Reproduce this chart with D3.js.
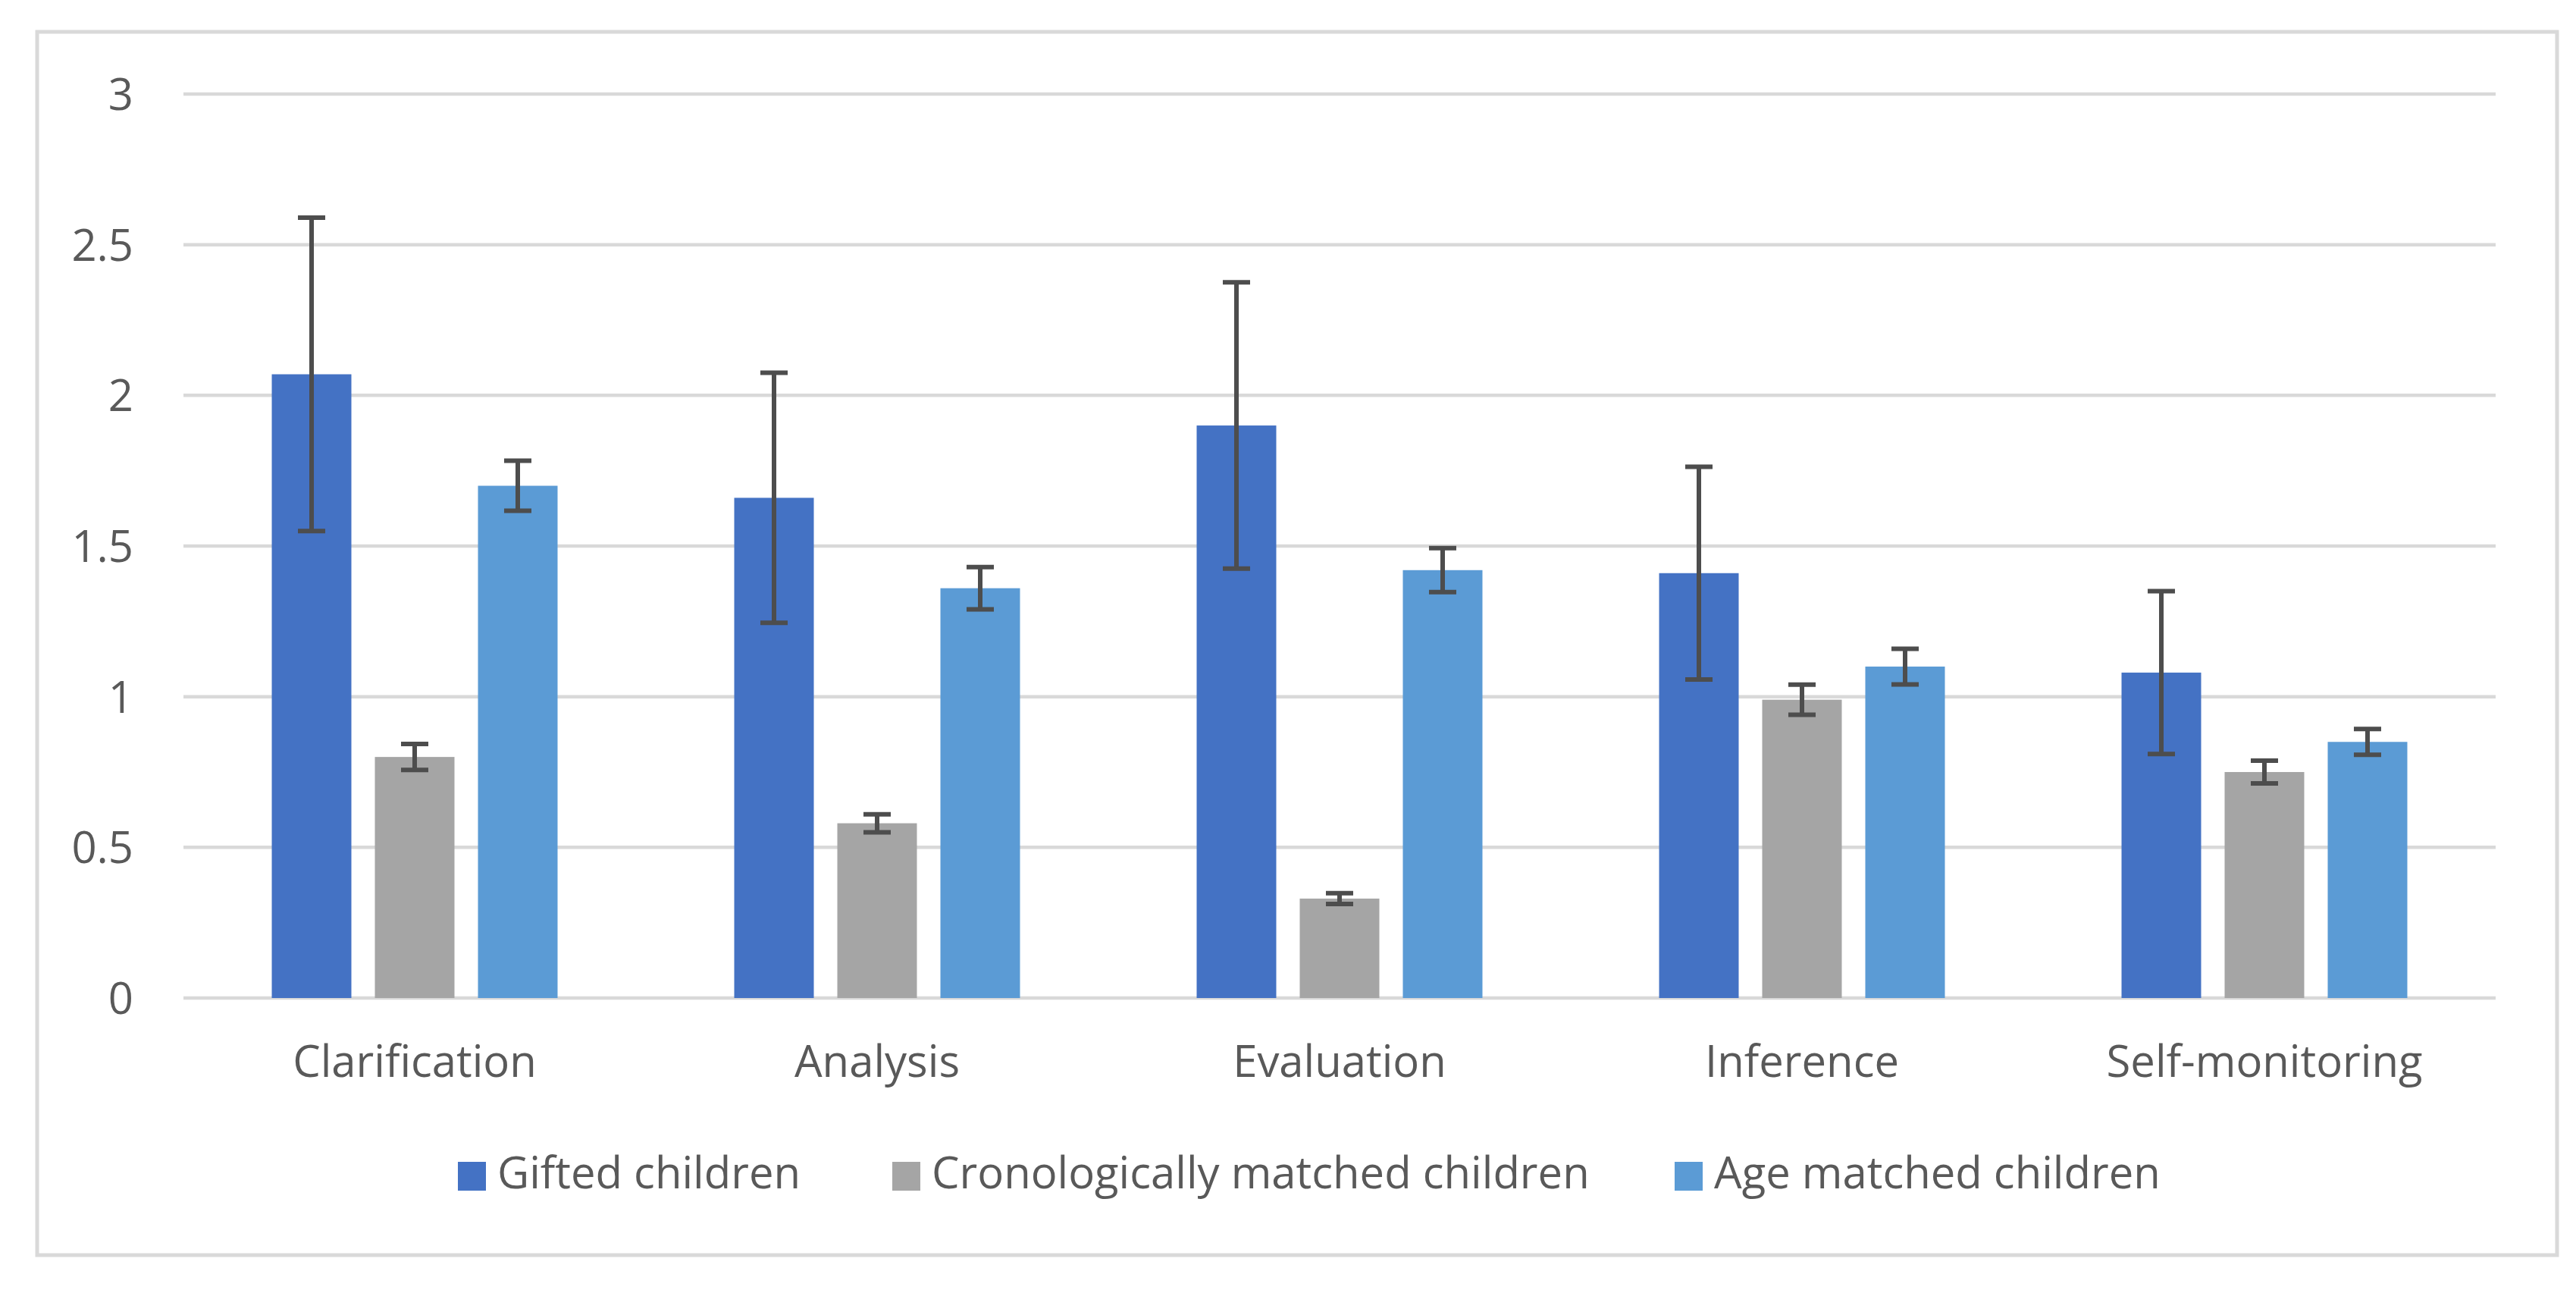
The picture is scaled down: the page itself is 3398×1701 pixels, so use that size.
<!DOCTYPE html>
<html>
<head>
<meta charset="utf-8">
<script src="https://cdn.jsdelivr.net/npm/d3@7/dist/d3.min.js"></script>
<style>
  html, body { margin: 0; padding: 0; background: #ffffff; }
  svg { display: block; }
  text { font-family: "Open Sans", "Noto Sans", sans-serif; fill: #595959; }
</style>
</head>
<body>
<svg id="chart" width="3398" height="1701"></svg>
<script>
const categories = ["Clarification", "Analysis", "Evaluation", "Inference", "Self-monitoring"];
const seriesNames = ["Gifted children", "Cronologically matched children", "Age matched children"];
const seriesColors = ["#4472C4", "#A5A5A5", "#5B9BD5"];
const giftedValues = [2.07, 1.66, 1.90, 1.41, 1.08];
const giftedErrors = [0.52, 0.415, 0.475, 0.353, 0.27];
const cronoValues = [0.80, 0.58, 0.33, 0.99, 0.75];
const cronoErrors = [0.043, 0.03, 0.018, 0.05, 0.038];
const ageValues = [1.70, 1.36, 1.42, 1.10, 0.85];
const ageErrors = [0.083, 0.07, 0.073, 0.059, 0.043];
const yTicks = [0, 0.5, 1, 1.5, 2, 2.5, 3];
const yTickLabels = ["0", "0.5", "1", "1.5", "2", "2.5", "3"];

const seriesValues = [giftedValues, cronoValues, ageValues];
const seriesErrors = [giftedErrors, cronoErrors, ageErrors];

const svg = d3.select("#chart");
const plot = { left: 242, right: 3292, top: 124, bottom: 1316 };
const FS = 58;

// outer border
svg.append("rect")
  .attr("x", 49).attr("y", 42)
  .attr("width", 3373 - 49).attr("height", 1655 - 42)
  .attr("fill", "#ffffff")
  .attr("stroke", "#d9d9d9").attr("stroke-width", 5);

const y = d3.scaleLinear().domain([0, 3]).range([plot.bottom, plot.top]);
const x0 = d3.scaleBand().domain(categories).range([plot.left, plot.right]).padding(0);
const groupFrac = 0.618;
const groupW = x0.bandwidth() * groupFrac;
const x1 = d3.scaleBand().domain(d3.range(3)).range([0, groupW]).paddingInner(0.228).paddingOuter(0);

// gridlines
svg.append("g").selectAll("line").data(yTicks).join("line")
  .attr("x1", plot.left).attr("x2", plot.right)
  .attr("y1", d => y(d)).attr("y2", d => y(d))
  .attr("stroke", "#d9d9d9").attr("stroke-width", 4.5);

// y tick labels
svg.append("g").selectAll("text").data(yTicks).join("text")
  .attr("x", 176).attr("y", d => y(d))
  .attr("dy", "0.36em")
  .attr("text-anchor", "end")
  .attr("font-size", FS)
  .text((d, i) => yTickLabels[i]);

// bars
const groups = svg.append("g").selectAll("g").data(categories).join("g")
  .attr("transform", c => `translate(${x0(c) + (x0.bandwidth() - groupW) / 2},0)`);

groups.each(function(c, ci) {
  const g = d3.select(this);
  seriesValues.forEach((vals, si) => {
    g.append("rect")
      .attr("x", x1(si))
      .attr("width", x1.bandwidth())
      .attr("y", y(vals[ci]))
      .attr("height", y(0) - y(vals[ci]))
      .attr("fill", seriesColors[si]);
  });
  seriesValues.forEach((vals, si) => {
    const cx = x1(si) + x1.bandwidth() / 2;
    const v = vals[ci], e = seriesErrors[si][ci];
    const eg = g.append("g").attr("stroke", "#4d4d4d").attr("stroke-width", 6);
    eg.append("line").attr("x1", cx).attr("x2", cx).attr("y1", y(v + e)).attr("y2", y(v - e));
    eg.append("line").attr("x1", cx - 18).attr("x2", cx + 18).attr("y1", y(v + e)).attr("y2", y(v + e));
    eg.append("line").attr("x1", cx - 18).attr("x2", cx + 18).attr("y1", y(v - e)).attr("y2", y(v - e));
  });
});

// category labels
svg.append("g").selectAll("text").data(categories).join("text")
  .attr("x", c => x0(c) + x0.bandwidth() / 2)
  .attr("y", 1420)
  .attr("text-anchor", "middle")
  .attr("font-size", FS)
  .text(c => c);

// legend
const legendX = [604, 1177, 2209];
const lg = svg.append("g").selectAll("g").data(seriesNames).join("g")
  .attr("transform", (d, i) => `translate(${legendX[i]},0)`);
lg.append("rect").attr("x", 0).attr("y", 1532).attr("width", 37).attr("height", 38)
  .attr("fill", (d, i) => seriesColors[i]);
lg.append("text").attr("x", 52).attr("y", 1567).attr("font-size", FS).text(d => d);
</script>
</body>
</html>
